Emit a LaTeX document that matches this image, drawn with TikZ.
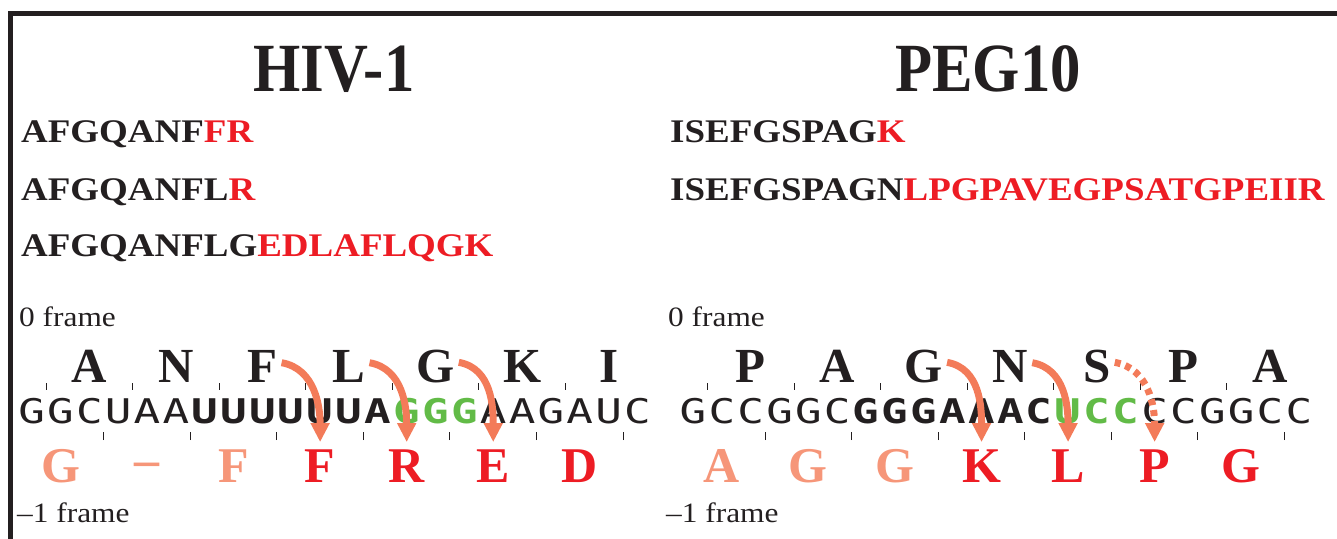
\documentclass[tikz,border=0pt]{standalone}
\usepackage{fontspec}
\setmainfont{Liberation Serif}
\newfontfamily\seqfont[FakeStretch=1.12]{Liberation Serif}
\newfontfamily\headfont[FakeStretch=0.88]{Liberation Serif}
\newfontfamily\ntfont[FakeStretch=1.3]{DejaVu Sans Mono}
\usetikzlibrary{arrows.meta,calc}

\definecolor{inkblack}{HTML}{231F20}
\definecolor{aared}{HTML}{ED1C24}
\definecolor{aapale}{HTML}{F69679}
\definecolor{fsorange}{HTML}{F37B59}
\definecolor{slipgreen}{HTML}{62BB47}

% codon grid: left edge of each sequence and width of one nucleotide
\def\hivx{17.2}
\def\pegx{678.6}
\def\ntpitch{28.85}

\begin{document}
\begin{tikzpicture}[
    x=1pt, y=1pt,
    % text styles
    header/.style={font={\headfont\bfseries\fontsize{69}{69}\selectfont}, text=inkblack, anchor=base, inner sep=0pt},
    pepline/.style={font={\seqfont\bfseries\fontsize{33}{33}\selectfont}, text=inkblack, anchor=base west, inner sep=0pt},
    framelabel/.style={font={\seqfont\fontsize{28}{28}\selectfont}, text=inkblack, anchor=base west, inner sep=0pt},
    topaa/.style={font={\bfseries\fontsize{49}{49}\selectfont}, text=inkblack, anchor=base, inner sep=0pt},
    botaa/.style={font={\bfseries\fontsize{50}{50}\selectfont}, text=aared, anchor=base, inner sep=0pt},
    oldaa/.style={botaa, text=aapale},
    nt/.style={font={\ntfont\fontsize{34}{34}\selectfont}, text=inkblack, anchor=base, inner sep=0pt},
    ntbold/.style={nt, font={\ntfont\bfseries\fontsize{34}{34}\selectfont}},
    slip/.style={ntbold, text=slipgreen},
    codontick/.style={draw=inkblack, line width=1pt},
    % frameshift arrows
    fsarrow/.style={draw=fsorange, line width=7pt, -{Triangle[length=19pt,width=18pt]}},
    fsdotted/.style={fsarrow, dash pattern=on 6pt off 5pt}
]
\useasboundingbox (0,0) rectangle (1337,538);

% Panel frame
\draw[line width=5pt, draw=inkblack] (1345,524.5) -- (10.5,524.5) -- (10.5,-8);

% Headers
\node[header] (hivhead) at (334,446) {HIV-1};
\node[header] (peghead) at (988,446) {PEG10};

% Peptides
\node[pepline] (hivpep1) at (21,395) {AFGQANF{\color{aared}FR}};
\node[pepline] (hivpep2) at (21,337) {AFGQANFL{\color{aared}R}};
\node[pepline] (hivpep3) at (21,281) {AFGQANFLG{\color{aared}EDLAFLQGK}};
\node[pepline] (pegpep1) at (670,395) {ISEFGSPAG{\color{aared}K}};
\node[pepline] (pegpep2) at (670,337) {ISEFGSPAGN{\color{aared}LPGPAVEGPSATGPEIIR}};

% Frame labels
\node[framelabel] (hivzero) at (19,211) {0 frame};
\node[framelabel] (hivminus) at (17,16) {\textendash1 frame};
\node[framelabel] (pegzero) at (668,211) {0 frame};
\node[framelabel] (pegminus) at (666,16) {\textendash1 frame};

% HIV-1 sequence
\foreach \n [count=\i] in {G,G,C,U,A,A}
    \node[nt] (hivnt\i) at ({\hivx+(\i-0.5)*\ntpitch},114) {\n};
\foreach \n [count=\i from 7] in {U,U,U,U,U,U,A}
    \node[ntbold] (hivnt\i) at ({\hivx+(\i-0.5)*\ntpitch},114) {\n};
\foreach \n [count=\i from 14] in {G,G,G}
    \node[slip] (hivnt\i) at ({\hivx+(\i-0.5)*\ntpitch},114) {\n};
\foreach \n [count=\i from 17] in {A,A,G,A,U,C}
    \node[nt] (hivnt\i) at ({\hivx+(\i-0.5)*\ntpitch},114) {\n};
\foreach \a [count=\j from 0] in {A,N,F,L,G,K,I}
    \node[topaa] (hivtop\j) at ({\hivx+(3*\j+2.5)*\ntpitch},155) {\a};
\foreach \a [count=\j from 0] in {G,\raisebox{6pt}{\textendash},F}
    \node[oldaa] (hivbot\j) at ({\hivx+(3*\j+1.5)*\ntpitch},56) {\a};
\foreach \a [count=\j from 3] in {F,R,E,D}
    \node[botaa] (hivbot\j) at ({\hivx+(3*\j+1.5)*\ntpitch},56) {\a};
\foreach \j in {0,...,6} {
    \draw[codontick] ({\hivx+(3*\j+1)*\ntpitch},148) -- ++(0,7);
    \draw[codontick] ({\hivx+(3*\j+3)*\ntpitch},98) -- ++(0,8);
}

% PEG10 sequence
\foreach \n [count=\i] in {G,C,C,G,G,C}
    \node[nt] (pegnt\i) at ({\pegx+(\i-0.5)*\ntpitch},114) {\n};
\foreach \n [count=\i from 7] in {G,G,G,A,A,A,C}
    \node[ntbold] (pegnt\i) at ({\pegx+(\i-0.5)*\ntpitch},114) {\n};
\foreach \n [count=\i from 14] in {U,C,C}
    \node[slip] (pegnt\i) at ({\pegx+(\i-0.5)*\ntpitch},114) {\n};
\foreach \n [count=\i from 17] in {C,C,G,G,C,C}
    \node[nt] (pegnt\i) at ({\pegx+(\i-0.5)*\ntpitch},114) {\n};
\foreach \a [count=\j from 0] in {P,A,G,N,S,P,A}
    \node[topaa] (pegtop\j) at ({\pegx+(3*\j+2.5)*\ntpitch},155) {\a};
\foreach \a [count=\j from 0] in {A,G,G}
    \node[oldaa] (pegbot\j) at ({\pegx+(3*\j+1.5)*\ntpitch},56) {\a};
\foreach \a [count=\j from 3] in {K,L,P,G}
    \node[botaa] (pegbot\j) at ({\pegx+(3*\j+1.5)*\ntpitch},56) {\a};
\foreach \j in {0,...,6} {
    \draw[codontick] ({\pegx+(3*\j+1)*\ntpitch},148) -- ++(0,7);
    \draw[codontick] ({\pegx+(3*\j+3)*\ntpitch},98) -- ++(0,8);
}

% Frameshift arrows
\draw[fsarrow] ($(hivtop2.north east)+(4,-12)$) to[out=-10,in=90] ($(hivbot3.north)+(0,7)$);
\draw[fsarrow] ($(hivtop3.north east)+(4,-12)$) to[out=-10,in=90] ($(hivbot4.north)+(0,7)$);
\draw[fsarrow] ($(hivtop4.north east)+(4,-12)$) to[out=-10,in=90] ($(hivbot5.north)+(0,7)$);
\draw[fsarrow] ($(pegtop2.north east)+(4,-12)$) to[out=-10,in=90] ($(pegbot3.north)+(0,7)$);
\draw[fsarrow] ($(pegtop3.north east)+(4,-12)$) to[out=-10,in=90] ($(pegbot4.north)+(0,7)$);
\draw[fsdotted] ($(pegtop4.north east)+(4,-12)$) to[out=-10,in=90] ($(pegbot5.north)+(0,7)$);

\end{tikzpicture}
\end{document}
